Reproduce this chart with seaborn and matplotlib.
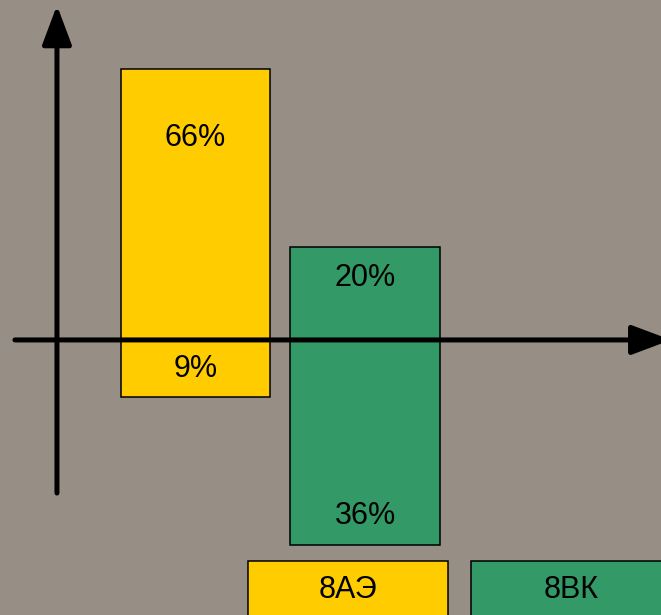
import numpy as np
import pandas as pd
import matplotlib.pyplot as plt
import seaborn as sns
from matplotlib.patches import Rectangle

# data (bar extents in chart units, labels as printed)
groups = ['8АЭ', '8ВК']
bar_top = [66, 22.6]
bar_bottom = [-13.9, -50]
top_labels = ['66%', '20%']
bottom_labels = ['9%', '36%']
colors = ['#FFCC00', '#339966']

sns.set_style('white')
plt.rcParams['font.family'] = ['Liberation Sans', 'DejaVu Sans']

bg = '#978f86'
fig = plt.figure(figsize=(6.61, 6.15), dpi=100)
fig.patch.set_facecolor(bg)
ax = fig.add_axes([0, 0, 1, 1])
ax.set_facecolor(bg)

df = pd.DataFrame({'group': groups, 'top': bar_top, 'bottom': bar_bottom})
sns.barplot(data=df, x='group', y='top', hue='group', palette=colors, width=0.88,
            saturation=1, edgecolor='black', linewidth=1.1, legend=False, ax=ax)
sns.barplot(data=df, x='group', y='bottom', hue='group', palette=colors, width=0.88,
            saturation=1, edgecolor='black', linewidth=1.1, legend=False, ax=ax)

ax.set_xlim(-1.153, 2.746)
ax.set_ylim(-67.0, 82.8)
ax.axis('off')

# axes arrows
arrow = dict(arrowstyle='-|>,head_length=24,head_width=9', lw=3.6, color='black',
             mutation_scale=1, shrinkA=0, shrinkB=0)
ax.annotate('', xy=(2.805, 0), xytext=(-1.065, 0), arrowprops=arrow,
            annotation_clip=False)
ax.annotate('', xy=(-0.817, 81.5), xytext=(-0.817, -37.3), arrowprops=arrow,
            annotation_clip=False)

# value labels
top_pos = [49.2, 15.1]
bottom_pos = [-7.0, -42.8]
for i in range(len(groups)):
    ax.text(i, top_pos[i], top_labels[i], ha='center', va='center', fontsize=22,
            color='black')
    ax.text(i, bottom_pos[i], bottom_labels[i], ha='center', va='center', fontsize=22,
            color='black')

# legend boxes at the bottom
box_x = [248, 471]
for i, g in enumerate(groups):
    x0 = box_x[i] / 661
    fig.patches.append(Rectangle((x0, -0.05), 200 / 661, (615 - 561) / 615 + 0.05,
                                 transform=fig.transFigure, facecolor=colors[i],
                                 edgecolor='black', linewidth=1.1))
    fig.text(x0 + 100 / 661, 1 - 590 / 615, g, ha='center', va='center', fontsize=22,
             color='black')

fig.savefig('out.png', dpi=100, facecolor=bg)
